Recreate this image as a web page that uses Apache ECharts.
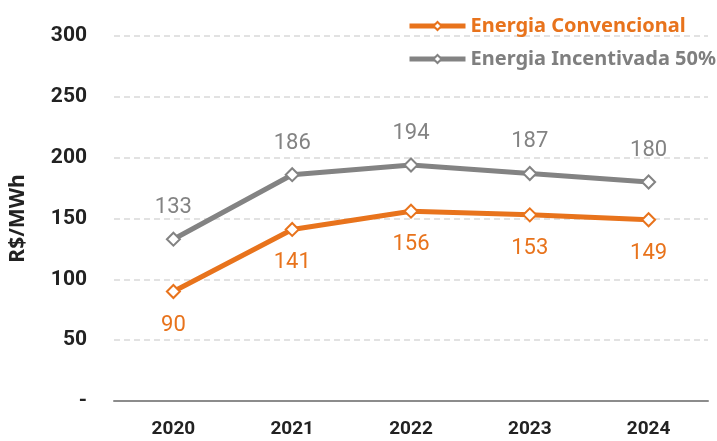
<!DOCTYPE html>
<html>
<head>
<meta charset="utf-8">
<script src="https://cdn.jsdelivr.net/npm/echarts@6/dist/echarts.min.js"></script>
<style>
  html, body { margin: 0; padding: 0; background: #fff; }
  #chart { width: 717px; height: 441px; }
</style>
</head>
<body>
<div id="chart"></div>
<script>
  // dados
  const anos = ['2020', '2021', '2022', '2023', '2024'];
  const convencional = [90, 141, 156, 153, 149];
  const incentivada = [133, 186, 194, 187, 180];

  const laranja = '#E8731C';
  const cinza = '#838383';

  let myChart = echarts.init(document.getElementById('chart'));
  let option = {
    backgroundColor: '#fff',
    animation: false,
    textStyle: { fontFamily: 'Roboto' },
    grid: { left: 114, right: 9, top: 36, bottom: 40 },
    legend: {
      left: 402,
      top: 11,
      orient: 'vertical',
      align: 'left',
      itemGap: 13,
      itemWidth: 56,
      itemHeight: 10,
      lineStyle: { width: 5 },
      textStyle: { fontSize: 20, fontWeight: 'bold', fontFamily: 'Noto Sans' },
      data: [
        { name: 'Energia Convencional', textStyle: { color: laranja } },
        { name: 'Energia Incentivada 50%', textStyle: { color: '#7f7f7f' } }
      ]
    },
    xAxis: {
      type: 'category',
      data: anos,
      axisTick: { show: false },
      axisLine: { lineStyle: { color: '#8c8c8c', width: 2 } },
      axisLabel: { fontSize: 19, fontWeight: 'bold', color: '#222', margin: 19 }
    },
    yAxis: {
      type: 'value',
      min: 0,
      max: 300,
      interval: 50,
      name: 'R$/MWh',
      nameLocation: 'middle',
      nameGap: 85,
      nameTextStyle: { fontSize: 21, fontWeight: 'bold', color: '#222', fontFamily: 'Noto Sans' },
      axisLine: { show: false },
      axisTick: { show: false },
      axisLabel: {
        fontSize: 21, fontWeight: 'bold', color: '#222', margin: 27,
        formatter: function (v) { return v === 0 ? '-' : v; }
      },
      splitLine: { lineStyle: { color: '#d9d9d9', type: [6, 4], width: 1.5 } }
    },
    series: [
      {
        name: 'Energia Convencional',
        type: 'line',
        data: convencional,
        symbol: 'diamond',
        symbolSize: 13,
        itemStyle: { color: '#fff', borderColor: laranja, borderWidth: 2 },
        lineStyle: { color: laranja, width: 5 },
        label: {
          show: true, position: 'bottom', distance: 15,
          fontSize: 22, color: laranja
        },
        z: 3
      },
      {
        name: 'Energia Incentivada 50%',
        type: 'line',
        data: incentivada,
        symbol: 'diamond',
        symbolSize: 13,
        itemStyle: { color: '#fff', borderColor: cinza, borderWidth: 2 },
        lineStyle: { color: cinza, width: 5 },
        label: {
          show: true, position: 'top', distance: 13,
          fontSize: 22, color: cinza
        },
        z: 2
      }
    ]
  };
  myChart.setOption(option);
</script>
</body>
</html>
